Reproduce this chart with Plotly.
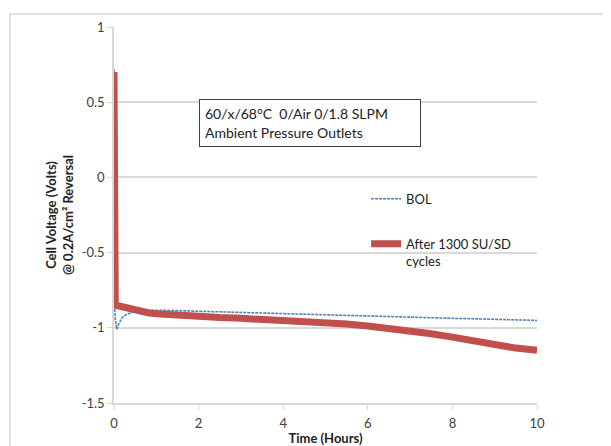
import plotly.graph_objects as go

# BOL series (hours, volts)
bol_t = [0, 0.005, 0.02, 0.04, 0.07, 0.1, 0.15, 0.2, 0.3, 0.4, 0.5, 0.7, 1.0, 1.5, 2, 2.5,
         3, 3.5, 4, 4.5, 5, 5.5, 6, 6.5, 7, 7.5, 8, 8.5, 9, 9.5, 10]
bol_v = [0.72, -0.85, -0.90, -0.97, -1.01, -0.98, -0.95, -0.93, -0.91, -0.90, -0.89, -0.885,
         -0.883, -0.886, -0.89, -0.895, -0.898, -0.903, -0.908, -0.912, -0.917, -0.92, -0.925,
         -0.928, -0.93, -0.935, -0.937, -0.94, -0.943, -0.947, -0.951]

# After 1300 SU/SD cycles series
aft_t = [0, 0.01, 0.03, 0.2, 0.4, 0.6, 0.8, 1.0, 1.5, 2, 2.5, 3, 3.5, 4, 4.5, 5, 5.5, 6,
         6.5, 7, 7.5, 8, 8.5, 9, 9.5, 10]
aft_v = [0.70, -0.84, -0.85, -0.86, -0.875, -0.89, -0.90, -0.907, -0.918, -0.928, -0.932,
         -0.937, -0.943, -0.95, -0.96, -0.967, -0.975, -0.988, -1.003, -1.02, -1.04, -1.062,
         -1.09, -1.115, -1.135, -1.15]

x_ticks = [0, 2, 4, 6, 8, 10]
y_ticks = [-1.5, -1, -0.5, 0, 0.5, 1]
y_labels = ["-1.5", "-1", "-0.5", "0", "0.5", "1"]

FONT = "Lato, 'Open Sans', sans-serif"
GRID = "#d9d9d9"

fig = go.Figure()
fig.add_trace(go.Scatter(x=bol_t, y=bol_v, mode="lines", name="BOL",
                         legendgroup="a",
                         line=dict(color="#4f81bd", width=1.6, dash="3px,1px")))
fig.add_trace(go.Scatter(x=aft_t, y=aft_v, mode="lines", name="After 1300 SU/SD<br>cycles",
                         legendgroup="b",
                         line=dict(color="#c0504d", width=7)))

# page body has an 8px margin, so the figure is sized/offset to compensate
fig.update_layout(
    width=603, height=438,
    margin=dict(l=106, r=74, t=19, b=43, autoexpand=False),
    paper_bgcolor="white", plot_bgcolor="white",
    font=dict(family=FONT, size=12, color="#404040"),
    showlegend=True,
    legend=dict(x=0.596, y=0.583, xanchor="left", yanchor="top", bgcolor="rgba(0,0,0,0)",
                font=dict(size=13, color="#222"), itemwidth=30, tracegroupgap=25,
                valign="top"),
    xaxis=dict(range=[0, 10], tickvals=x_ticks, showgrid=False, zeroline=False,
               automargin=False, ticklabelstandoff=3,
               showline=True, linecolor=GRID, linewidth=1.5, ticks="outside",
               tickcolor=GRID, ticklen=5, tickfont=dict(size=13, color="#404040"),
               title=dict(text="<b>Time (Hours)</b>", font=dict(size=13, color="#222"),
                          standoff=5)),
    yaxis=dict(range=[-1.5, 1], tickvals=y_ticks, ticktext=y_labels,
               automargin=False,
               showgrid=True, gridcolor=GRID, gridwidth=1.5, zeroline=False,
               showline=True, linecolor=GRID, linewidth=1.5, ticks="outside",
               tickcolor=GRID, ticklen=5, tickfont=dict(size=13, color="#404040"),
               title=dict(text="<b>Cell Voltage (Volts)<br>@ 0.2A/cm² Reversal</b>",
                          font=dict(size=13, color="#222"), standoff=5)),
    shapes=[dict(type="rect", xref="paper", yref="paper", x0=-0.246, x1=1.4,
                 y0=-0.3, y1=1.0346, line=dict(color=GRID, width=1.5), layer="below")],
    annotations=[dict(xref="paper", yref="paper", x=0.201, y=0.8085, xanchor="left",
                      yanchor="top", align="left", showarrow=False, width=210, height=36,
                      text="60/x/68°C  0/Air 0/1.8 SLPM<br>Ambient Pressure Outlets",
                      font=dict(size=14, color="#222"), bordercolor="#404040",
                      borderwidth=1, borderpad=5, bgcolor="white")],
)

fig.write_html("out.html")
